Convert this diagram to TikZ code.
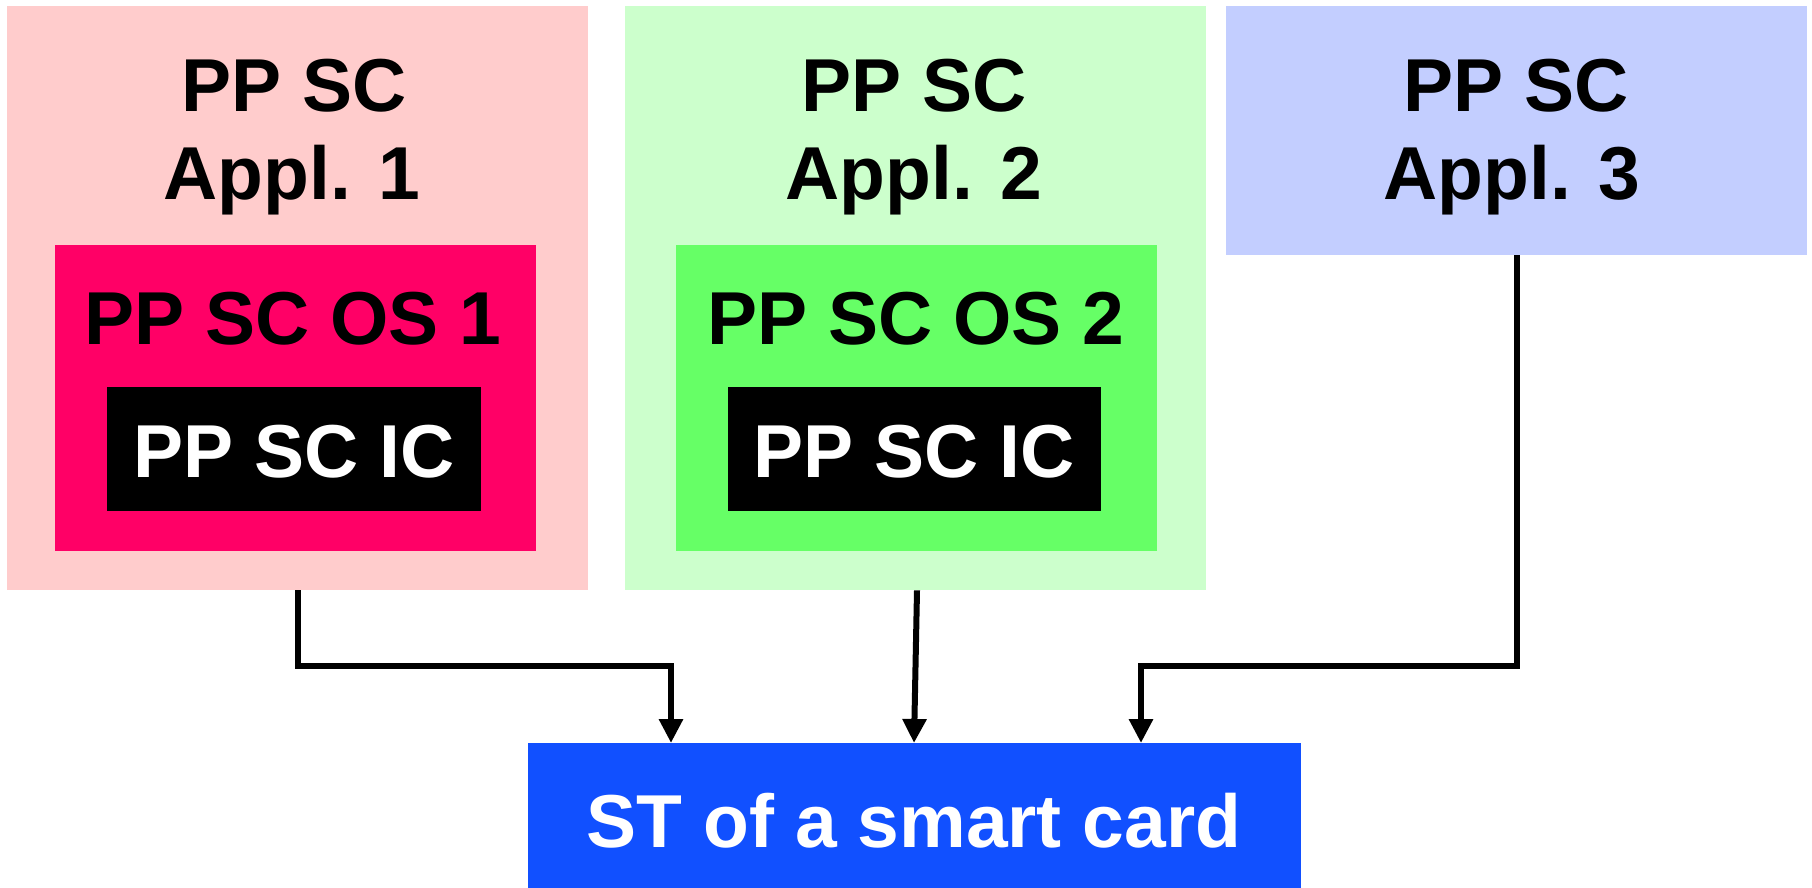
\documentclass[tikz,border=0pt]{standalone}
\usepackage{fontspec}
\setmainfont{Liberation Sans}
\usetikzlibrary{arrows.meta}
\definecolor{pinkbg}{RGB}{255,204,204}
\definecolor{osred}{RGB}{255,0,102}
\definecolor{greenbg}{RGB}{204,255,204}
\definecolor{osgreen}{RGB}{102,255,102}
\definecolor{bluebg}{RGB}{195,206,255}
\definecolor{stblue}{RGB}{17,80,255}
\tikzset{
  box/.style={rectangle, draw=none, inner sep=0pt, anchor=north west},
  txt/.style={anchor=base, inner sep=0pt, font=\bfseries\fontsize{75}{87}\selectfont},
  arr/.style={line width=6pt, -{Triangle[length=24pt,width=23pt]}}
}
\begin{document}
\begin{tikzpicture}[x=1pt,y=-1pt]
\useasboundingbox (0,0) rectangle (1812,888);
% application boxes
\node[box, fill=pinkbg, minimum width=581pt, minimum height=584pt] (app1) at (7,6) {};
\node[box, fill=greenbg, minimum width=581pt, minimum height=584pt] (app2) at (625,6) {};
\node[box, fill=bluebg, minimum width=581pt, minimum height=249pt] (app3) at (1226,6) {};
% OS boxes
\node[box, fill=osred, minimum width=481pt, minimum height=306pt] (os1) at (55,245) {};
\node[box, fill=osgreen, minimum width=481pt, minimum height=306pt] (os2) at (676,245) {};
% IC boxes
\node[box, fill=black, minimum width=374pt, minimum height=124pt] (ic1) at (107,387) {};
\node[box, fill=black, minimum width=373pt, minimum height=124pt] (ic2) at (728,387) {};
% ST box
\node[box, fill=stblue, minimum width=773pt, minimum height=145pt] (st) at (528,743) {};
% texts
\node[txt] (t1a) at (294,112) {PP SC};
\node[txt] (t1b) at (292,199) {Appl. 1};
\node[txt] (t2a) at (914,112) {PP SC};
\node[txt] (t2b) at (914,199) {Appl. 2};
\node[txt] (t3a) at (1516,112) {PP SC};
\node[txt] (t3b) at (1512,199) {Appl. 3};
\node[txt] (o1) at (293,344) {PP SC OS 1};
\node[txt] (o2) at (916,344) {PP SC OS 2};
\node[txt, text=white] (i1) at (294,477) {PP SC IC};
\node[txt, text=white] (i2) at (914,477) {PP SC IC};
\node[txt, text=white] (s) at (914,847) {ST of a smart card};
% connectors
\draw[arr] ([xshift=291pt]app1.south west) -- ++(0,76) -| ([xshift=143pt]st.north west);
\draw[arr] ([xshift=292pt]app2.south west) -- ([xshift=386pt]st.north west);
\draw[arr] ([xshift=291pt]app3.south west) -- ++(0,411) -| ([xshift=613pt]st.north west);
\end{tikzpicture}
\end{document}
